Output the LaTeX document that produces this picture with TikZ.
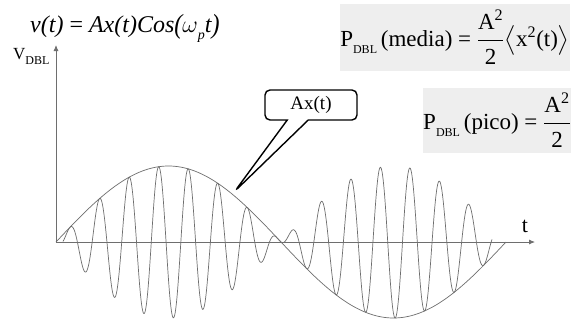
\documentclass[tikz,border=0pt]{standalone}
\usepackage{fix-cm}
\usepackage{amsmath}
\usepackage{graphicx}
\usepackage{fontspec}
\setmainfont{Liberation Serif}
\usetikzlibrary{shapes.callouts,arrows.meta}
\definecolor{boxgray}{RGB}{238,238,238}
\definecolor{wavegray}{RGB}{110,110,110}
\newcommand\dblsub[1]{\raisebox{-0.33em}{\fontsize{#1}{#1}\selectfont DBL}}
\newcommand\bigpar[1]{\raisebox{-0.07em}{\scalebox{1}[1.15]{#1}}}
\newcommand\halffrac{\dfrac{\text{A}^{\text{2}}\rule[-7pt]{0pt}{7pt}}{\rule{0pt}{21pt}\text{2}}}
\begin{document}
\begin{tikzpicture}[x=1pt,y=-1pt,
  wave/.style={wavegray, line width=0.7pt},
  axisline/.style={wavegray, line width=0.8pt, -{Latex[length=6pt,width=5pt]}},
  formulabox/.style={fill=boxgray, inner sep=0pt},
  bubble/.style={rectangle callout, draw=black, fill=white, line width=1.4pt,
    rounded corners=5pt, minimum width=92pt, minimum height=30pt,
    callout pointer width=21pt, font=\fontsize{19}{22}\selectfont}]
\useasboundingbox (0,0) rectangle (575,335);
\fill[white] (0,0) rectangle (575,335);

% axes
\coordinate (O) at (56,242);
\coordinate (ytop) at (56,45);
\coordinate (xend) at (535,242);
\draw[axisline] (O) -- (ytop);
\draw[axisline] (O) -- (xend);

% envelope and modulated carrier
\draw[wave] plot[domain=56:506, samples=300, smooth] (\x, {242 - 76*sin(0.8*(\x-56))});
\draw[wave] plot[domain=63:492, samples=900, smooth]
  (\x, {242 - 76*sin(0.8*(\x-56))*cos(12.18*(\x-70))});

% labels
\node[anchor=base west, inner sep=0pt, font=\fontsize{24}{28}\selectfont] (eq) at (30,32)
  {\itshape v(t)\upshape{} = \itshape Ax(t)Cos\bigpar{(}$\omega$\raisebox{-0.3em}{\fontsize{14}{14}\selectfont\itshape p}t\bigpar{)}};
\node[anchor=base west, inner sep=0pt, font=\fontsize{17}{20}\selectfont] (vdbl) at (13,59)
  {V\dblsub{12}};
\node[anchor=base, inner sep=0pt, font=\fontsize{22}{26}\selectfont] (tlab) at (525,232) {t};

% callout
\coordinate (tip) at (235,191);
\node[bubble, callout absolute pointer={(tip)}] (ax) at (311,105) {Ax(t)};

% formula boxes
\node[formulabox, minimum width=224pt, minimum height=67pt, font=\fontsize{23}{27}\selectfont] (media) at (455,37.5)
  {P\dblsub{12}\,(media) = $\halffrac\bigl\langle\text{x}^{\text{2}}\text{(t)}\bigr\rangle$};
\node[formulabox, minimum width=140pt, minimum height=65pt, font=\fontsize{23}{27}\selectfont] (pico) at (497,120.5)
  {P\dblsub{12}\,(pico) = $\halffrac$};
\end{tikzpicture}
\end{document}
